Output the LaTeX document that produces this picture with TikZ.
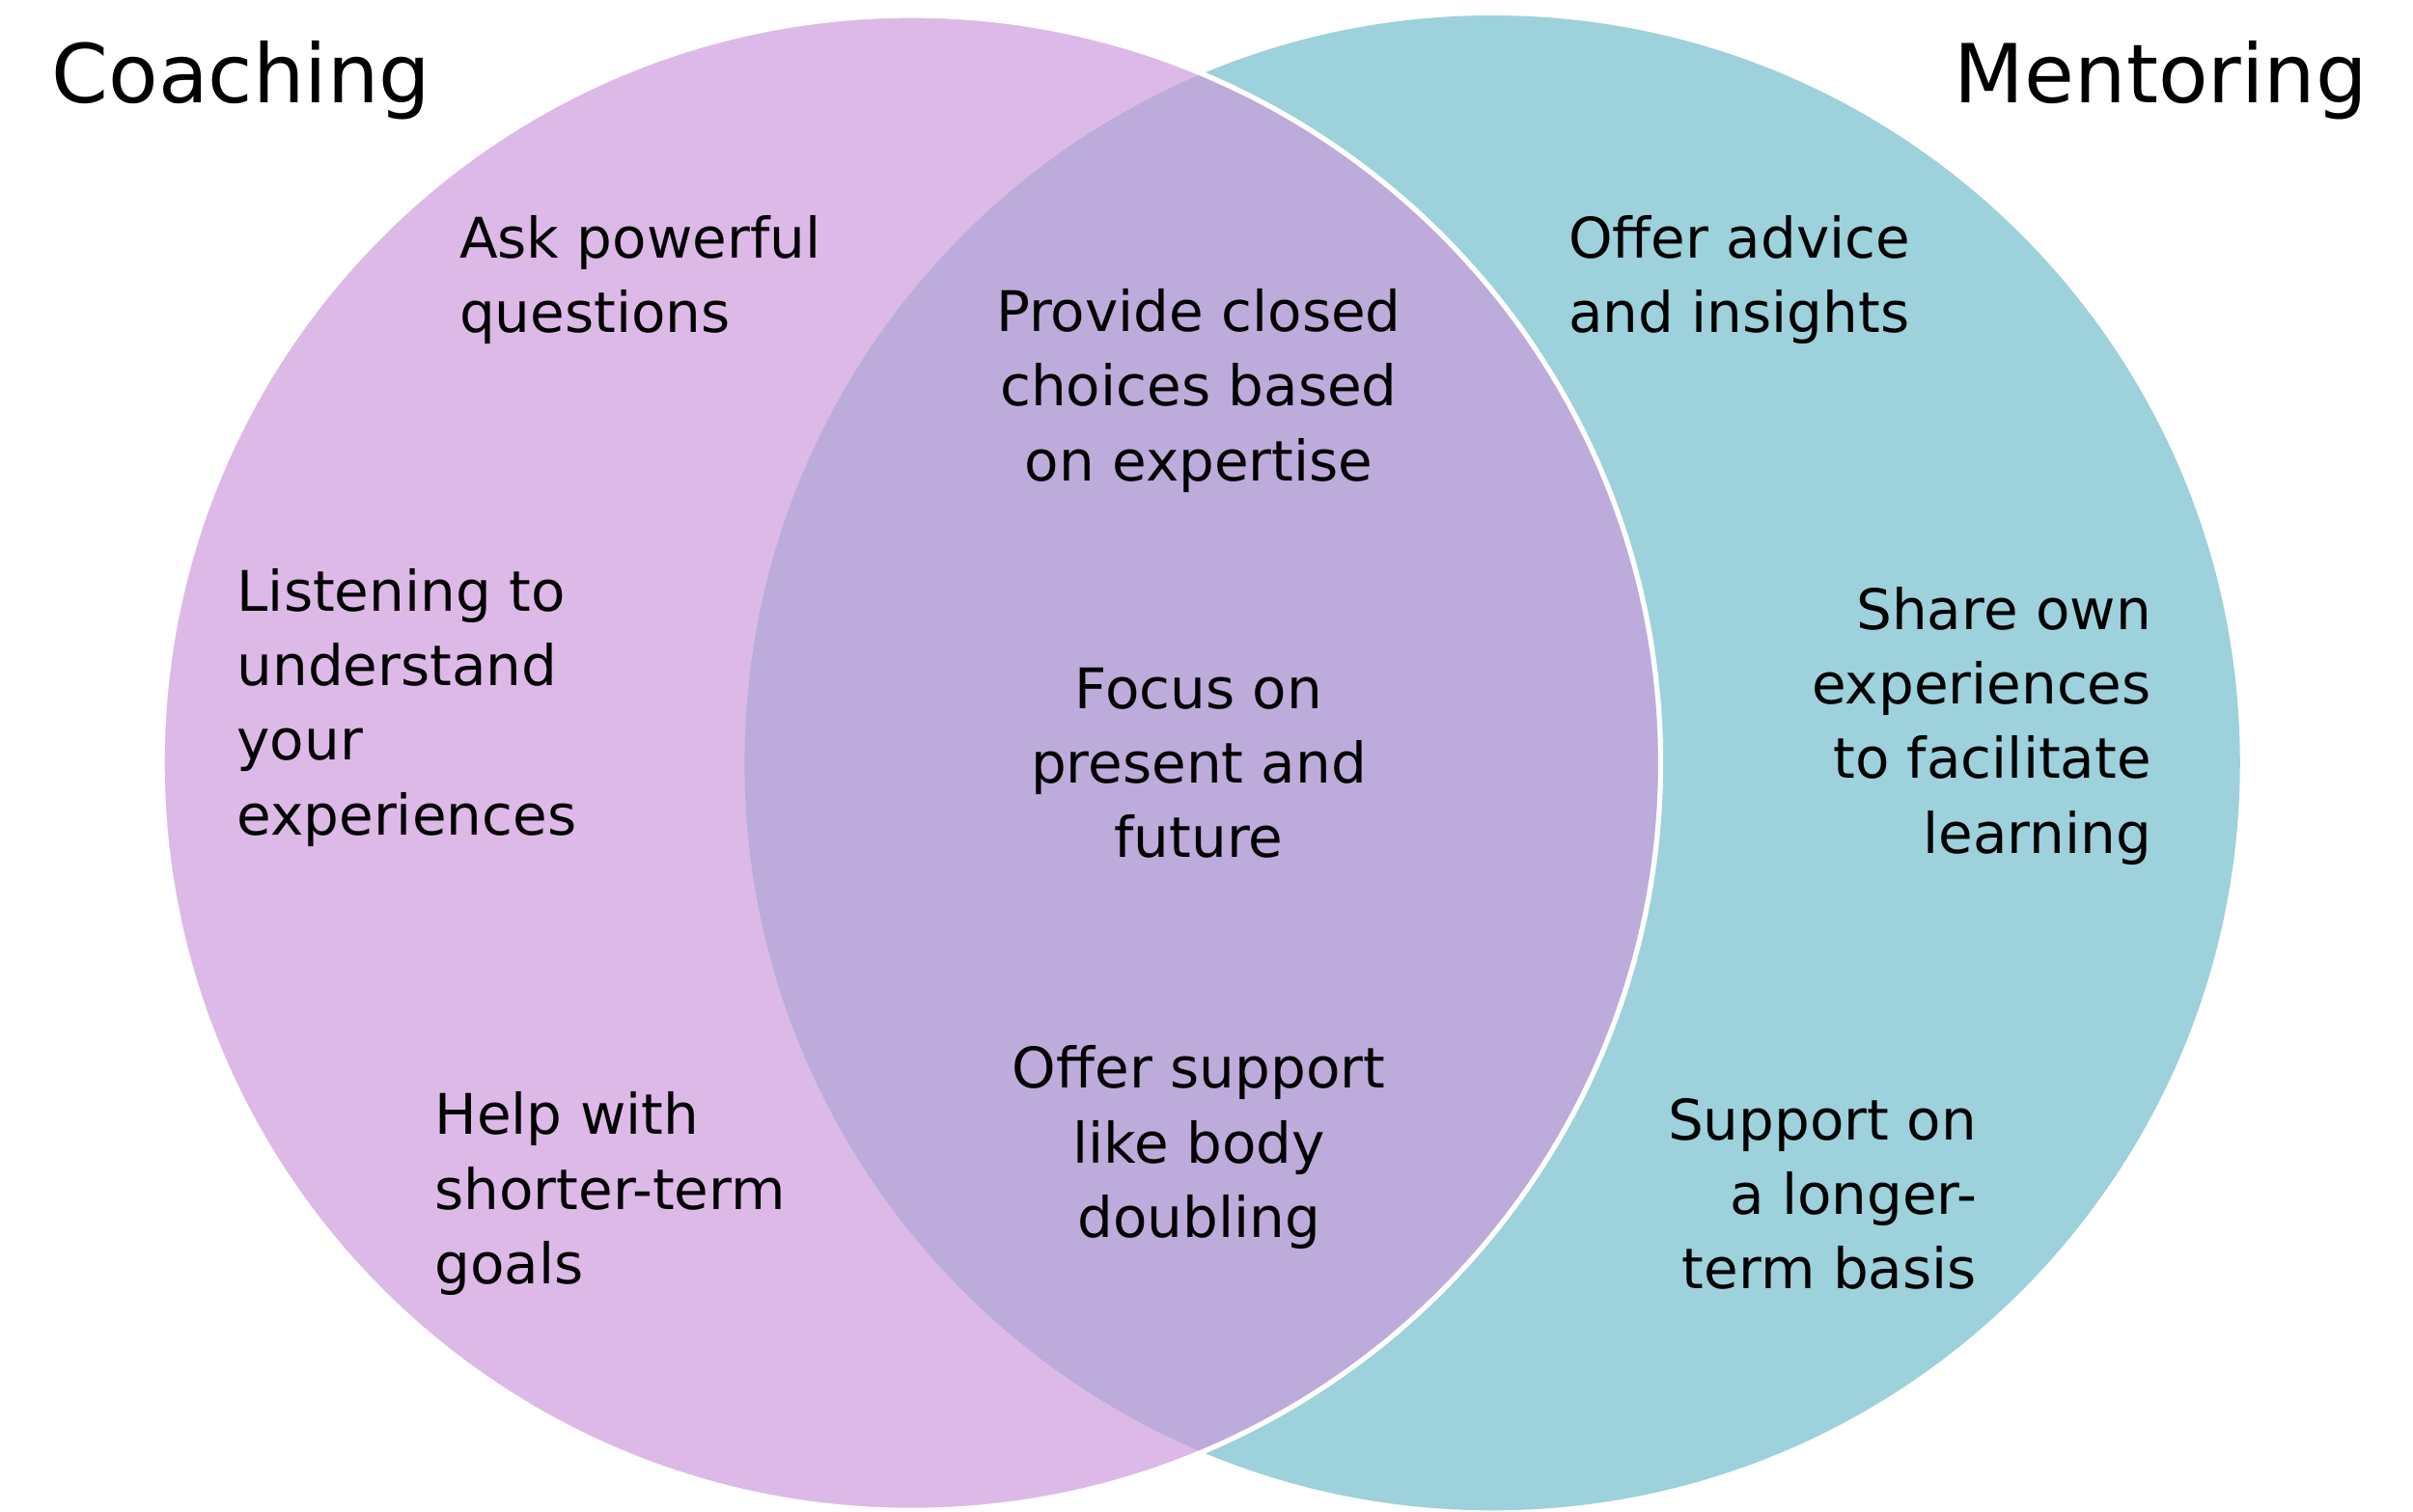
\documentclass[tikz,border=0pt]{standalone}
\usepackage{fontspec}
\setmainfont{DejaVu Sans}
\begin{document}
\begin{tikzpicture}[x=0.016005cm,y=-0.016005cm,
  txt/.style={inner sep=0pt,font=\fontsize{16.5}{22}\selectfont},
  ttl/.style={inner sep=0pt,font=\fontsize{24}{28}\selectfont}]
\useasboundingbox[fill=white] (0,0) rectangle (1562,978.5);
\definecolor{pinkc}{HTML}{DDB9E8}
\definecolor{tealc}{HTML}{9DD1DB}
\definecolor{overc}{HTML}{BDABDB}
\coordinate (L) at (590,494);
\coordinate (R) at (966,494);
\fill[pinkc] (L) circle[x radius=485,y radius=484];
\fill[tealc] (R) circle[x radius=484,y radius=484];
\begin{scope}
\clip (L) circle[x radius=485,y radius=484];
\fill[overc] (R) circle[x radius=484,y radius=484];
\end{scope}
\draw[white,line width=1.5pt] (L) circle[x radius=485,y radius=484];
\node[ttl,anchor=west] (c) at (33,52) {Coaching};
\node[ttl,anchor=east] (m) at (1533,52) {Mentoring};
\node[txt,anchor=west,align=left] (a1) at (297,181) {Ask powerful\\questions};
\node[txt,align=center] (b1) at (776,253) {Provide closed\\choices based\\on expertise};
\node[txt,anchor=west,align=left] (c1) at (1015,181) {Offer advice\\and insights};
\node[txt,anchor=west,align=left] (a2) at (153,458) {Listening to\\understand\\your\\experiences};
\node[txt,align=center] (b2) at (776,494) {Focus on\\present and\\future};
\node[txt,anchor=east,align=right] (c2) at (1393,470) {Share own\\experiences\\to facilitate\\learning};
\node[txt,anchor=west,align=left] (a3) at (281,773) {Help with\\shorter-term\\goals};
\node[txt,align=center] (b3) at (776,743) {Offer support\\like body\\doubling};
\node[txt,anchor=east,align=right] (c3) at (1280,773) {Support on\\a longer-\\term basis};
\end{tikzpicture}
\end{document}
